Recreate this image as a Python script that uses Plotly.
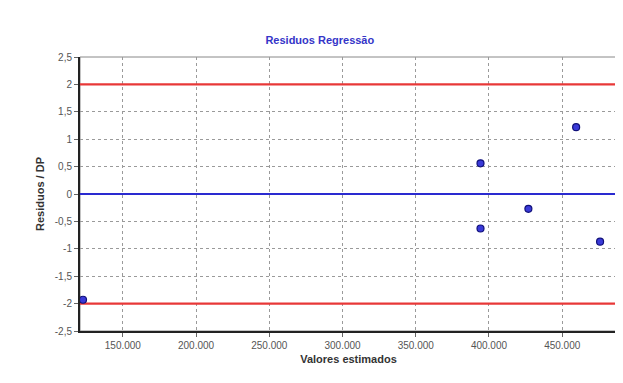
import plotly.graph_objects as go

# Data
fitted_values = [122800, 394200, 394200, 426900, 459500, 475850]
std_residuals = [-1.93, 0.56, -0.63, -0.27, 1.22, -0.87]
limit_values = [-2, 2]
zero_value = 0
x_range = [120750, 487400]
y_range = [-2.5, 2.5]
x_ticks = [150000, 200000, 250000, 300000, 350000, 400000, 450000]
y_ticks = [-2.5, -2, -1.5, -1, -0.5, 0, 0.5, 1, 1.5, 2, 2.5]
y_tick_labels = [("%g" % v).replace(".", ",") for v in y_ticks]

fig = go.Figure()

for v in limit_values:
    fig.add_trace(go.Scatter(x=x_range, y=[v, v], mode="lines",
                             line=dict(color="#e83838", width=2.2),
                             hoverinfo="skip", showlegend=False))
fig.add_trace(go.Scatter(x=x_range, y=[zero_value, zero_value], mode="lines",
                         line=dict(color="#2a2ad0", width=2.2),
                         hoverinfo="skip", showlegend=False))

fig.add_trace(go.Scatter(
    x=fitted_values, y=std_residuals, mode="markers",
    marker=dict(size=7, color="#3a3ad8", line=dict(color="#10107a", width=1.2)),
    cliponaxis=False, showlegend=False,
))

fig.add_shape(type="rect", xref="paper", yref="paper", x0=0, y0=0, x1=1, y1=1,
              line=dict(color="#888888", width=1), layer="below")

fig.update_layout(
    width=615, height=375,
    margin=dict(l=72, r=6, t=49, b=52),
    paper_bgcolor="white", plot_bgcolor="white",
    separators=",.",
    font=dict(family="Arial, Liberation Sans, sans-serif", size=10, color="#555555"),
    title=dict(text="<b>Residuos Regressão</b>", x=0.507, xref="container", xanchor="center",
               y=0.915, yref="container", yanchor="middle",
               font=dict(size=11, color="#3535c8")),
    xaxis=dict(
        range=x_range, tickvals=x_ticks, tickformat=",.0f",
        showgrid=True, gridcolor="#9a9a9a", griddash="3px,3px", gridwidth=1,
        showline=True, linecolor="#222222", linewidth=2,
        ticks="outside", ticklen=4, tickcolor="#666666",
        zeroline=False,
        title=dict(text="<b>Valores estimados</b>", font=dict(size=11, color="#333333"), standoff=5),
    ),
    yaxis=dict(
        range=y_range, tickvals=y_ticks, ticktext=y_tick_labels,
        showgrid=True, gridcolor="#9a9a9a", griddash="3px,3px", gridwidth=1,
        showline=True, linecolor="#222222", linewidth=2,
        ticks="outside", ticklen=4, tickcolor="#666666",
        zeroline=False,
        title=dict(text="<b>Residuos / DP</b>", font=dict(size=11, color="#333333"), standoff=8),
    ),
)

fig.write_html("out.html")
